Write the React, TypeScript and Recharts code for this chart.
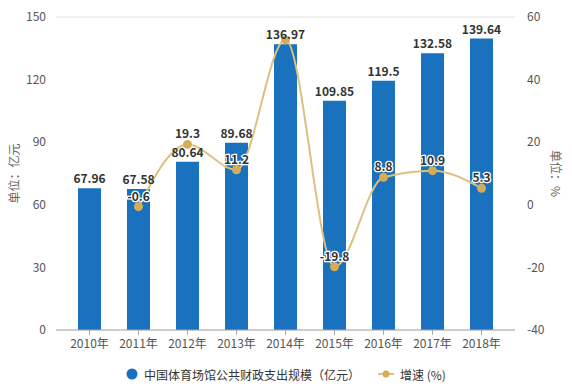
import React from 'react';
import { ComposedChart, Bar, Line, XAxis, YAxis, CartesianGrid, Legend, LabelList } from 'recharts';

const categories = ['2010年', '2011年', '2012年', '2013年', '2014年', '2015年', '2016年', '2017年', '2018年'];
const spending = [67.96, 67.58, 80.64, 89.68, 136.97, 109.85, 119.5, 132.58, 139.64];
const growth: (number | null)[] = [null, -0.6, 19.3, 11.2, 52.7, -19.8, 8.8, 10.9, 5.3];
const growthLabels: (string | null)[] = [null, '-0.6', '19.3', '11.2', null, '-19.8', '8.8', '10.9', '5.3'];
const leftTicks = [0, 30, 60, 90, 120, 150];
const rightTicks = [-40, -20, 0, 20, 40, 60];

const data = categories.map((c, i) => ({
  name: c,
  spending: spending[i],
  growth: growth[i],
  glabel: growthLabels[i],
}));

const FONT = '"Noto Sans CJK SC", "Noto Sans", sans-serif';
const BAR = '#1a71bd';
const LINE = '#dcc27e';
const DOT = '#d6ad57';

const LineLabel = (props: any) => {
  const { x, y, index } = props;
  const t = growthLabels[index];
  if (t == null) return null;
  return (
    <text x={x} y={y - 6} textAnchor="middle" fontSize={12} fontWeight="bold" fill="#333"
      stroke="#fff" strokeWidth={2.5} style={{ paintOrder: 'stroke' }} fontFamily={FONT}>
      {t}
    </text>
  );
};

const BarLabel = (props: any) => {
  const { x, y, width, value } = props;
  return (
    <text x={x + width / 2} y={y - 5} textAnchor="middle" fontSize={12} fontWeight="bold" fill="#333" fontFamily={FONT}>
      {value}
    </text>
  );
};

const LegendContent = () => (
  <div style={{ display: 'flex', justifyContent: 'center', alignItems: 'center', height: 30, fontFamily: FONT, fontSize: 12, color: '#333', paddingLeft: 0 }}>
    <svg width={12} height={12} style={{ marginRight: 6 }}>
      <circle cx={6} cy={6} r={5.5} fill={BAR} />
    </svg>
    <span style={{ marginRight: 18 }}>中国体育场馆公共财政支出规模（亿元）</span>
    <svg width={16} height={10} style={{ marginRight: 6 }}>
      <line x1={0} y1={5} x2={16} y2={5} stroke={LINE} strokeWidth={2} />
      <circle cx={8} cy={5} r={3.5} fill={DOT} />
    </svg>
    <span>增速 (%)</span>
  </div>
);

export default function App() {
  return (
    <div style={{ position: 'absolute', left: 0, top: 0, width: 572, height: 389, background: '#fff' }}>
      <ComposedChart width={572} height={389} data={data} margin={{ top: 17, right: 0, left: 0, bottom: 0 }} barSize={23}>
        <CartesianGrid vertical={false} stroke="#e0e0e0" />
        <XAxis dataKey="name" padding={{ left: 9, right: 9 }} height={29} tickSize={5} tickMargin={4}
          axisLine={{ stroke: '#aaa' }} tickLine={{ stroke: '#aaa' }}
          tick={{ fontSize: 12, fill: '#555', fontFamily: FONT }} interval={0} />
        <YAxis yAxisId="left" width={56} domain={[0, 150]} ticks={leftTicks} axisLine={false} tickLine={false}
          tickMargin={4} tick={{ fontSize: 12, fill: '#555', fontFamily: FONT }}
          label={{ value: '单位：亿元', angle: -90, position: 'insideLeft', offset: 15, style: { fontSize: 12, fill: '#666', fontFamily: FONT, textAnchor: 'middle' } }} />
        <YAxis yAxisId="right" orientation="right" width={57} domain={[-40, 60]} ticks={rightTicks} axisLine={false} tickLine={false}
          tickMargin={6} tick={{ fontSize: 12, fill: '#555', fontFamily: FONT }}
          label={{ value: '单位：%', angle: 90, position: 'insideRight', offset: 17, style: { fontSize: 12, fill: '#666', fontFamily: FONT, textAnchor: 'middle' } }} />
        <Bar yAxisId="left" dataKey="spending" fill={BAR} isAnimationActive={false}>
          <LabelList dataKey="spending" content={BarLabel} />
        </Bar>
        <Line yAxisId="right" type="monotone" dataKey="growth" stroke={LINE} strokeWidth={2}
          dot={{ r: 4.5, fill: DOT, stroke: DOT, strokeWidth: 0 }} isAnimationActive={false} connectNulls>
          <LabelList dataKey="growth" content={LineLabel} />
        </Line>
        <Legend verticalAlign="bottom" height={30} content={LegendContent} />
      </ComposedChart>
    </div>
  );
}
